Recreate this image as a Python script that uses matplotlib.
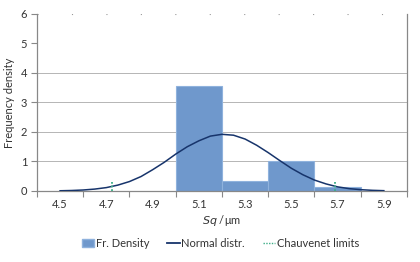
import matplotlib
matplotlib.use("Agg")
import matplotlib.pyplot as plt
from matplotlib.patches import Patch
from matplotlib.lines import Line2D

plt.rcParams['font.family'] = ['Lato', 'DejaVu Sans']

# histogram bins (left edges), width and frequency density
bin_left = [5.0, 5.2, 5.4, 5.6]
bin_width = 0.2
density = [3.56, 0.35, 1.02, 0.15]

# normal distribution curve
curve_x = [4.50, 4.55, 4.60, 4.65, 4.70, 4.75, 4.80, 4.85, 4.90, 4.95,
           5.00, 5.05, 5.10, 5.15, 5.20, 5.25, 5.30, 5.35, 5.40, 5.45,
           5.50, 5.55, 5.60, 5.65, 5.70, 5.75, 5.80, 5.85, 5.90]
curve_y = [0.008, 0.017, 0.034, 0.065, 0.115, 0.2, 0.32, 0.49, 0.72, 0.97,
           1.25, 1.50, 1.70, 1.86, 1.92, 1.89, 1.76, 1.55, 1.30, 1.03,
           0.77, 0.55, 0.37, 0.24, 0.14, 0.08, 0.045, 0.023, 0.011]

# Chauvenet limits
chauv_x = [4.726, 5.688]
chauv_top = 0.32

x_ticks = [4.4, 4.6, 4.8, 5.0, 5.2, 5.4, 5.6, 5.8, 6.0]
x_labels = ['4.5', '4.7', '4.9', '5.1', '5.3', '5.5', '5.7', '5.9']

fig = plt.figure(figsize=(4.2, 2.62), dpi=100)
ax = fig.add_axes([0.088, 0.271, 0.881, 0.676])

ax.bar(bin_left, density, width=bin_width, align='edge',
       color='#6F98CC', edgecolor='#8FB2DD', linewidth=0.8, zorder=2)
ax.plot(curve_x, curve_y, color='#17346B', linewidth=1.1, zorder=3)
for cx in chauv_x:
    ax.plot([cx, cx], [0, chauv_top], color='#3DAE88', linestyle=(0, (1, 1)),
            linewidth=1.3, zorder=4)

ax.set_xlim(4.4, 6.0)
ax.set_ylim(0, 6)

# gridlines
for gy in [1, 2, 3, 4]:
    ax.axhline(gy, color='#555555', linestyle=(0, (1.2, 1.2)), linewidth=0.6, zorder=1)
ax.axhline(6, color='#999999', linestyle=(0, (1, 30)), linewidth=0.8, zorder=1)

ax.set_xticks(x_ticks)
ax.set_xticklabels([])
label_pos = [x + 0.1 for x in x_ticks[:-1]]
ax.set_xticks(label_pos, minor=True)
ax.set_xticklabels(x_labels, minor=True)
ax.tick_params(axis='x', which='major', length=4, width=0.8, color='#888888', direction='out')
ax.tick_params(axis='x', which='minor', length=0, pad=6, labelsize=8, labelcolor='#333333')

ax.set_yticks(range(0, 7))
ax.tick_params(axis='y', length=4, width=0.8, color='#888888', direction='out',
               labelsize=8, labelcolor='#333333', pad=3)

for s in ['left', 'bottom', 'right']:
    ax.spines[s].set_color('#888888')
    ax.spines[s].set_linewidth(0.9)
ax.spines['top'].set_visible(False)

ax.set_ylabel('Frequency density', fontsize=8, color='#333333', labelpad=4)
ax.set_xlabel(r'$\mathit{Sq}$ /μm', fontsize=8, color='#333333', labelpad=2)

handles = [Patch(facecolor='#6F98CC', edgecolor='#8FB2DD'),
           Line2D([0], [0], color='#17346B', linewidth=1.3),
           Line2D([0], [0], color='#3DAE88', linestyle=(0, (1, 1)), linewidth=1.0)]
fig.legend(handles, ['Fr. Density', 'Normal distr.', 'Chauvenet limits'],
           loc='center', bbox_to_anchor=(0.525, 0.072), ncol=3, frameon=False,
           fontsize=8, handlelength=1.1, handletextpad=0.15, columnspacing=1.6,
           labelcolor='#333333')

fig.savefig('out.png', dpi=100)
